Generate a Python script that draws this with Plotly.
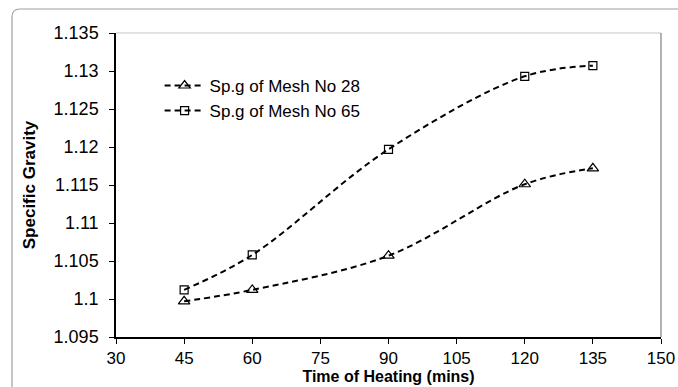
import plotly.graph_objects as go

time_mins = [45, 60, 90, 120, 135]
mesh28 = [1.0997, 1.1012, 1.1057, 1.1151, 1.1172]
mesh65 = [1.1012, 1.1058, 1.1197, 1.1293, 1.1307]
name28 = "Sp.g of Mesh No 28"
name65 = "Sp.g of Mesh No 65"

fig = go.Figure()
fig.add_trace(go.Scatter(
    x=time_mins, y=mesh28, name=name28, mode="lines+markers",
    line=dict(color="black", dash="6px,4px", width=2, shape="spline", smoothing=1.0),
    marker=dict(symbol="triangle-up-open", size=10, color="black", line=dict(width=1.2))))
fig.add_trace(go.Scatter(
    x=time_mins, y=mesh65, name=name65, mode="lines+markers",
    line=dict(color="black", dash="6px,4px", width=2, shape="spline", smoothing=1.0),
    marker=dict(symbol="square-open", size=8, color="black", line=dict(width=1.2))))

L, R, T, B = 116, 17, 33, 50
W, H = 678, 387
pw, ph = W - L - R, H - T - B

def px(xp):
    return (xp - L) / pw

def py(yp):
    return 1 - (yp - T) / ph

x0, y0 = px(12), py(9)
rx, ry = 8 / pw, 8 / ph
path = (f"M {x0},{py(400)} L {x0},{y0 - ry} Q {x0},{y0} {x0 + rx},{y0} "
        f"L {px(690)},{y0}")

fig.update_layout(
    width=W, height=H,
    margin=dict(l=L, r=R, t=T, b=B),
    paper_bgcolor="white", plot_bgcolor="white",
    font=dict(family="Liberation Sans, Arial", size=18, color="black"),
    showlegend=True,
    legend=dict(x=0.08, y=0.885, xanchor="left", yanchor="top",
                bgcolor="rgba(0,0,0,0)", font=dict(size=17),
                itemwidth=40, tracegroupgap=4),
    xaxis=dict(range=[30, 150], tick0=30, dtick=15, showgrid=False, zeroline=False,
               showline=True, linecolor="black", linewidth=1.5,
               ticks="outside", ticklen=5, tickcolor="black", automargin=False,
               ticklabelstandoff=0, tickfont=dict(size=17),
               title=dict(text="<b>Time of Heating (mins)</b>", standoff=4,
                          font=dict(size=16))),
    yaxis=dict(range=[1.095, 1.135], tick0=1.095, dtick=0.005, showgrid=False,
               zeroline=False, showline=True, linecolor="black", linewidth=1.5,
               ticks="outside", ticklen=5, tickcolor="black", automargin=False,
               ticklabelstandoff=7,
               tickformat="~g",
               title=dict(text="<b>Specific Gravity</b>", standoff=14,
                          font=dict(size=17))),
    shapes=[
        dict(type="line", xref="paper", yref="paper", x0=0, x1=1, y0=1, y1=1,
             line=dict(color="#d9d9d9", width=1.5)),
        dict(type="line", xref="paper", yref="paper", x0=1, x1=1, y0=0, y1=1,
             line=dict(color="#808080", width=1.2)),
        dict(type="path", xref="paper", yref="paper", path=path,
             line=dict(color="#a0a0a0", width=1.2)),
    ],
)

fig.write_html("out.html")
